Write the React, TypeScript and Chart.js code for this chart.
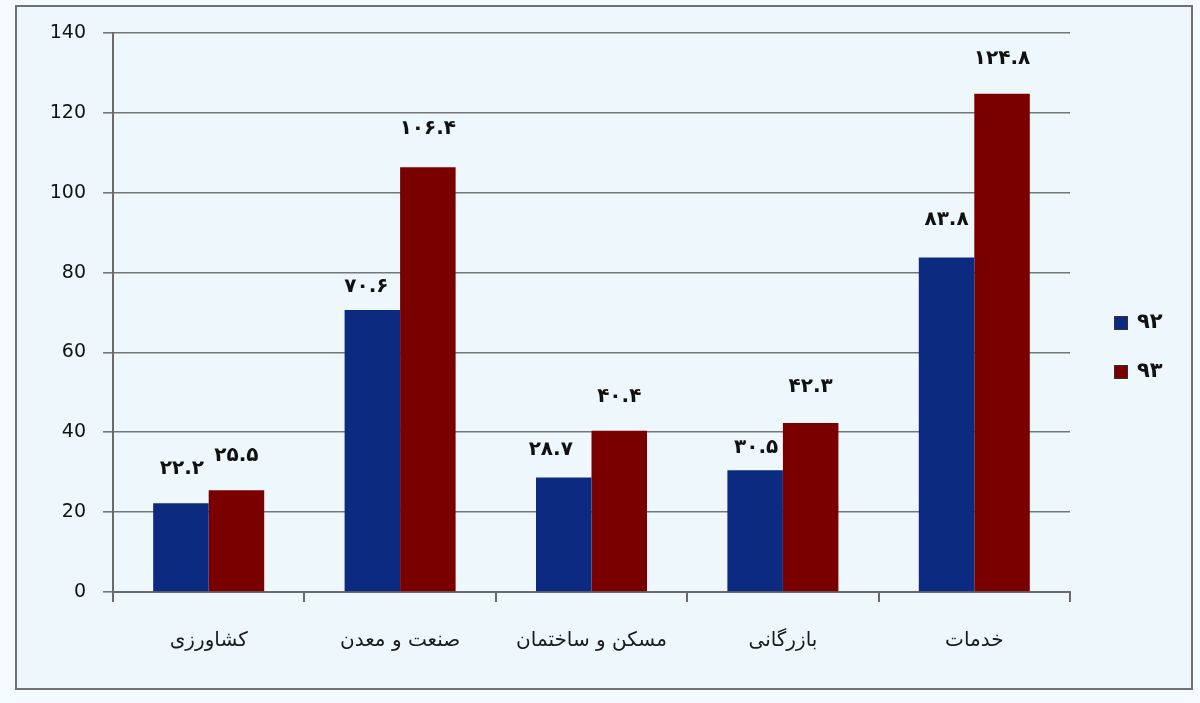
import { useEffect, useRef } from 'react';
import { Chart, registerables } from 'chart.js';

Chart.register(...registerables);

// sectors (x axis)
const categories = ['کشاورزی', 'صنعت و معدن', 'مسکن و ساختمان', 'بازرگانی', 'خدمات'];
// series names
const seriesNames = ['۹۲', '۹۳'];
// values per series
const values92 = [22.2, 70.6, 28.7, 30.5, 83.8];
const values93 = [25.5, 106.4, 40.4, 42.3, 124.8];
const seriesColors = ['#0c2a80', '#7a0000'];

// how far each value label sits above its bar (px), and sideways nudge
const labelLift = [
  [35, 23, 28, 22, 38],
  [34, 38, 34, 36, 35]
];
const labelShift = [
  [1, -6, -13, 1, 0],
  [0, 0, 0, 0, 0]
];

const yMin = 0;
const yMax = 140;
const yStep = 20;

const persianDigits = '۰۱۲۳۴۵۶۷۸۹';
const toPersian = (n: number): string =>
  n
    .toFixed(1)
    .split('')
    .map((c) => (c >= '0' && c <= '9' ? persianDigits[Number(c)] : c))
    .join('');

// value labels above each bar
const barLabels = {
  id: 'barLabels',
  afterDatasetsDraw(chart: Chart) {
    const ctx = chart.ctx;
    ctx.save();
    ctx.font = "bold 20px 'DejaVu Sans', sans-serif";
    ctx.fillStyle = '#111';
    ctx.textAlign = 'center';
    ctx.textBaseline = 'middle';
    chart.data.datasets.forEach((ds, i) => {
      const meta = chart.getDatasetMeta(i);
      meta.data.forEach((bar: any, j: number) => {
        const v = ds.data[j] as number;
        ctx.fillText(toPersian(v), bar.x + labelShift[i][j], bar.y - labelLift[i][j]);
      });
    });
    ctx.restore();
  }
};

// legend drawn on the right, boxes left of the text
const sideLegend = {
  id: 'sideLegend',
  afterDraw(chart: Chart) {
    const ctx = chart.ctx;
    ctx.save();
    ctx.font = "bold 21px 'DejaVu Sans', sans-serif";
    ctx.textAlign = 'left';
    ctx.textBaseline = 'middle';
    chart.data.datasets.forEach((ds: any, i: number) => {
      const y = 323 + i * 49;
      ctx.fillStyle = ds.backgroundColor;
      ctx.fillRect(1114, y - 7, 14, 14);
      ctx.strokeStyle = '#333';
      ctx.lineWidth = 1;
      ctx.strokeRect(1114.5, y - 6.5, 13, 13);
      ctx.fillStyle = '#111';
      ctx.fillText(ds.label, 1137, y);
    });
    ctx.restore();
  }
};

export default function App() {
  const chartRef = useRef<HTMLCanvasElement | null>(null);
  const chartInstance = useRef<Chart | null>(null);

  useEffect(() => {
    document.body.style.margin = '0';
    if (!chartRef.current) return;
    const ctx = chartRef.current.getContext('2d') as CanvasRenderingContext2D;

    if (chartInstance.current) {
      chartInstance.current.destroy();
    }

    chartInstance.current = new Chart(ctx, {
      type: 'bar',
      data: {
        labels: categories,
        datasets: [
          {
            label: seriesNames[0],
            data: values92,
            backgroundColor: seriesColors[0],
            borderWidth: 0,
            categoryPercentage: 0.58,
            barPercentage: 1
          },
          {
            label: seriesNames[1],
            data: values93,
            backgroundColor: seriesColors[1],
            borderWidth: 0,
            categoryPercentage: 0.58,
            barPercentage: 1
          }
        ]
      },
      options: {
        responsive: false,
        animation: false,
        layout: { padding: { top: 33, left: 0, right: 130, bottom: 0 } },
        plugins: {
          legend: { display: false },
          tooltip: { enabled: false }
        },
        scales: {
          x: {
            afterFit: (scale: any) => {
              scale.height = 111;
            },
            grid: {
              display: true,
              drawOnChartArea: false,
              drawTicks: true,
              tickLength: 10,
              color: '#6a6a6a',
              lineWidth: 2
            },
            border: { display: true, color: '#6a6a6a', width: 2 },
            ticks: {
              padding: 27,
              color: '#1a1a1a',
              font: { family: "'DejaVu Sans', sans-serif", size: 20 }
            }
          },
          y: {
            min: yMin,
            max: yMax,
            afterFit: (scale: any) => {
              scale.width = 113;
            },
            grid: {
              color: '#767676',
              lineWidth: 1.6,
              tickLength: 10,
              drawTicks: true
            },
            border: { display: true, color: '#6a6a6a', width: 2 },
            ticks: {
              stepSize: yStep,
              padding: 17,
              color: '#111',
              font: { family: "'DejaVu Sans', sans-serif", size: 19 }
            }
          }
        }
      },
      plugins: [barLabels, sideLegend]
    });

    return () => {
      if (chartInstance.current) {
        chartInstance.current.destroy();
        chartInstance.current = null;
      }
    };
  }, []);

  return (
    <div style={{ position: 'relative', width: 1200, height: 703, background: '#f4fbfe' }}>
      <div
        style={{
          position: 'absolute',
          left: 15,
          top: 5,
          width: 1178,
          height: 685,
          border: '2px solid #707070',
          boxSizing: 'border-box',
          background: '#eef8fc'
        }}
      />
      <canvas ref={chartRef} width={1200} height={703} style={{ position: 'absolute', left: 0, top: 0 }} />
    </div>
  );
}
